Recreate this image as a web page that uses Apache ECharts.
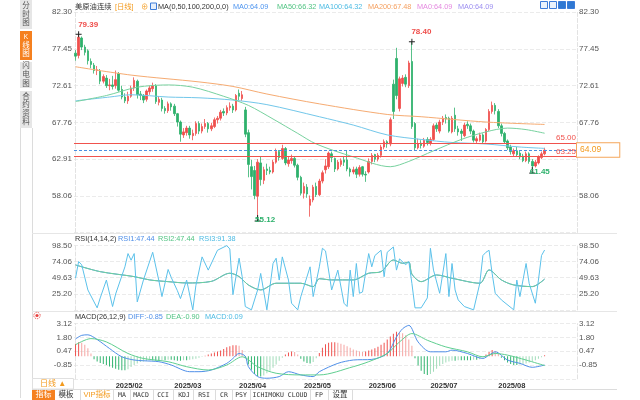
<!DOCTYPE html>
<html>
<head>
<meta charset="utf-8">
<title>美原油连续 日线</title>
<script src="https://cdn.jsdelivr.net/npm/echarts@6.0.0/dist/echarts.min.js"></script>
<style>
html,body{margin:0;padding:0;background:#fff;overflow:hidden}
#chart{width:640px;height:400px}
</style>
</head>
<body>
<div id="chart"></div>
<script>
// ================= DATA =================
const janDays = [14,15,16,17,21,22,23,24,27,28,29,30,31];
const febDays = [3,4,5,6,7,10,11,12,13,14,18,19,20,21,24,25,26,27,28];
const marDays = [3,4,5,6,7,10,11,12,13,14,17,18,19,20,21,24,25,26,27,28,31];
const aprDays = [1,2,3,4,7,8,9,10,11,14,15,16,17,21,22,23,24,25,28,29,30];
const mayDays = [1,2,5,6,7,8,9,12,13,14,15,16,19,20,21,22,23,27,28,29,30];
const junDays = [2,3,4,5,6,9,10,11,12,13,16,17,18,20,23,24,25,26,27,30];
const julDays = [1,2,3,7,8,9,10,11,14,15,16,17,18,21,22,23,24,25,28,29,30,31];
const augDays = [1,4,5,6,7,8,11,12,13,14,15,18,19,20,21,22];

// daily bars: [open, close, low, high]
const ohlc = [
[76.9,76.5,75.9,77.3],[76.6,79.0,76.2,79.39],[78.9,77.7,77.3,79.1],[77.7,77.0,76.6,78.0],[77.2,75.9,75.4,77.4],
[75.8,75.4,74.9,76.2],[75.3,74.6,74.2,75.6],[74.6,74.7,74.0,75.2],[74.5,73.2,72.8,74.8],[73.2,73.8,72.9,74.1],
[73.6,72.6,72.3,74.0],[72.6,72.7,72.0,73.5],[72.7,72.5,72.1,73.9],
[72.6,73.4,72.2,74.6],[74.2,72.0,71.8,74.4],[72.1,71.1,70.8,72.6],[71.1,70.6,70.3,71.6],[70.6,71.2,70.2,71.8],
[71.2,72.3,71.0,72.6],[72.3,73.3,71.9,73.7],[73.2,71.4,70.9,73.4],[71.5,71.3,70.7,71.9],[71.3,70.7,70.3,71.5],
[70.8,71.9,70.5,72.1],[71.8,72.3,71.4,72.6],[72.2,72.6,71.8,73.0],[72.6,70.5,70.2,72.8],[70.4,70.8,70.0,71.2],
[70.7,69.6,69.2,71.0],[69.6,69.3,68.9,69.9],[69.3,70.2,69.0,70.5],[70.2,69.8,69.3,70.4],
[69.9,68.9,68.6,70.2],[68.9,67.8,67.2,69.0],[67.8,66.2,65.2,68.0],[66.1,66.5,65.7,67.0],[66.4,67.0,66.0,67.3],
[67.0,66.1,65.6,67.3],[66.0,66.3,65.4,66.8],[66.3,67.6,66.0,67.9],[67.6,66.6,66.2,67.9],[66.6,67.2,66.3,67.6],
[67.2,67.6,66.9,68.2],[67.6,66.9,66.4,67.8],[66.9,67.3,66.6,67.7],[67.2,68.1,67.0,68.4],[68.1,68.3,67.6,68.6],
[68.3,69.1,68.0,69.4],[69.2,69.0,68.6,69.6],[69.0,69.7,68.7,70.0],[69.7,69.9,69.3,70.4],[69.9,69.4,69.0,70.2],
[69.4,71.3,69.2,71.5],
[71.6,71.2,70.7,72.1],[70.9,71.4,70.6,71.9],[69.4,66.2,65.8,69.8],[66.4,62.2,60.5,66.8],[61.9,60.6,58.9,62.8],
[61.4,58.1,57.6,62.0],[58.0,62.5,55.12,62.9],[62.4,60.2,59.4,63.2],[60.1,61.5,59.6,61.9],[61.6,61.4,60.8,62.3],
[61.4,61.2,60.9,61.9],[61.2,62.5,61.0,62.8],[62.5,63.9,62.3,64.3],[63.9,63.1,62.7,64.1],[63.0,64.3,62.8,64.8],
[64.3,62.4,62.1,64.5],[62.3,62.8,61.9,63.2],[62.7,63.0,62.3,63.5],[63.0,62.1,61.8,63.3],[62.1,60.5,60.1,62.3],
[60.5,58.4,58.1,60.7],
[58.4,59.3,57.7,59.8],[59.2,58.3,57.8,59.6],[56.8,57.6,55.3,58.1],[57.5,59.2,57.2,59.5],[59.3,58.2,57.9,59.8],
[58.2,60.0,58.0,60.3],[60.0,61.1,59.7,61.4],[61.5,62.0,61.0,62.9],[61.9,63.7,61.6,63.9],[63.6,63.1,62.5,63.9],
[63.0,61.6,61.2,63.1],[61.6,62.5,61.4,62.8],[62.2,62.7,61.9,63.0],[62.8,62.5,62.0,63.2],[62.8,61.6,61.3,64.0],
[61.6,61.2,60.6,61.8],[61.2,61.5,60.9,61.9],[61.6,60.9,60.4,61.9],[60.9,61.8,60.6,62.1],[61.9,60.9,60.6,62.0],
[60.9,60.8,59.9,61.3],
[61.2,62.6,61.0,63.0],[62.6,63.4,62.2,63.7],[63.5,62.9,62.5,63.6],[62.9,63.4,62.6,63.7],[63.4,64.5,63.1,64.8],
[64.5,65.2,64.2,65.5],[65.2,64.9,64.4,65.4],[64.9,68.1,64.6,68.4],[72.8,69.2,68.2,73.4],[76.2,71.3,70.8,77.6],
[69.6,73.5,69.2,73.8],[72.9,73.6,72.5,74.0],[73.7,72.8,72.4,74.1],[72.6,75.6,72.3,75.9],[75.8,67.2,66.9,78.40],
[67.6,64.4,64.1,67.8],[64.4,64.9,64.2,65.6],[65.0,64.7,64.3,65.4],[64.6,65.4,64.4,65.7],[65.5,65.1,64.7,65.8],
[65.0,65.5,64.7,65.8],[65.5,67.3,65.3,67.6],[67.4,66.9,66.5,67.7],[66.6,67.8,66.3,68.1],[67.8,68.3,67.4,68.6],
[68.4,68.2,67.6,68.8],[68.3,66.6,66.4,68.5],[66.5,68.3,66.3,68.6],[68.7,66.9,66.5,69.7],[66.9,66.5,66.0,67.3],
[66.6,66.3,65.3,66.9],[66.0,67.4,65.8,67.7],[67.5,67.3,66.9,67.9],[67.3,66.6,66.2,67.6],[66.6,65.4,65.1,66.8],
[65.3,65.6,65.0,65.9],[65.4,66.1,65.2,66.4],[66.1,65.2,64.9,66.3],[65.3,66.8,65.1,67.0],[66.8,69.2,66.6,69.5],
[69.2,70.0,68.9,70.5],[70.0,69.3,68.8,70.3],
[69.2,67.3,67.0,69.5],[67.3,66.3,65.9,67.6],[66.3,65.2,64.9,66.5],[65.3,64.4,64.1,65.5],[64.5,63.9,63.5,64.8],
[63.6,64.0,63.3,64.3],[64.0,63.5,63.2,64.5],[63.7,63.2,62.9,64.0],[63.3,62.7,62.5,63.6],[62.7,63.6,62.5,63.9],
[63.6,62.6,62.3,63.8],[62.6,62.0,61.45,62.9],[62.0,62.5,61.8,62.8],[62.4,63.2,62.2,63.4],[63.1,63.6,62.9,63.9],
[63.6,64.09,63.4,64.4]
];

// moving averages: [bar index, value]
const ma50 = [[0,70.5],[10,71.3],[20,72.4],[30,72.7],[38,72.4],[48,71.2],[56,70.0],[64,68.2],[72,66.3],[78,64.9],[90,63.2],[102,61.9],[108,62.6],[116,64.0],[125,65.5],[133,66.5],[140,67.0],[146,66.8],[152,66.32]];
const ma100 = [[0,70.6],[11,71.1],[18,71.4],[30,71.1],[40,71.0],[51,70.7],[62,70.1],[79,68.5],[90,67.4],[101,66.1],[112,65.5],[122,65.1],[133,64.9],[144,64.5],[152,64.32]];
const ma200 = [[0,75.1],[18,74.0],[40,73.1],[51,72.5],[62,71.5],[79,70.2],[101,68.8],[112,68.5],[133,67.8],[152,67.48]];

// RSI: [bar index, value]
const rsi14 = [[0,68.8],[8,58.7],[19,51.2],[24,46.2],[30,43.6],[36,41.6],[44,44.0],[50,56.3],[53,51.2],[56,38.6],[60,31.1],[65,41.2],[73,41.2],[77,36.1],[79,48.0],[83,46.2],[90,46.2],[95,56.3],[99,58.7],[103,76.3],[106,71.3],[108,73.0],[109,55.0],[112,43.6],[117,53.7],[122,48.7],[131,41.2],[134,61.3],[138,46.2],[142,38.6],[148,36.1],[152,47.44]];
const rsi2 = [[0,49],[1,74],[2,69],[4,31],[7,4],[8,19],[10,46],[12,6],[13,25],[16,66],[17,86],[18,76],[19,86],[20,13],[22,46],[25,88],[27,45],[28,21],[30,62],[31,50],[33,30],[34,18],[36,46],[38,1],[39,38],[41,81],[43,61],[46,91],[49,98],[50,93],[51,24],[53,79],[54,51],[55,6],[57,1],[59,31],[60,56],[62,1],[64,71],[65,79],[66,46],[67,81],[69,46],[70,11],[72,1],[73,21],[76,66],[77,21],[79,66],[80,94],[81,90],[83,31],[85,61],[87,11],[88,6],[89,61],[90,21],[91,71],[92,26],[93,28],[95,86],[96,66],[97,83],[99,91],[100,51],[101,88],[103,96],[104,61],[105,78],[107,69],[108,74],[109,41],[110,4],[112,4],[114,19],[115,94],[116,61],[118,26],[120,86],[121,21],[122,71],[123,31],[124,16],[126,6],[129,1],[131,41],[132,83],[133,88],[134,91],[135,56],[136,26],[138,16],[142,1],[143,46],[144,21],[146,71],[147,41],[149,11],[150,46],[151,83],[152,91.38]];

// MACD
const diffLine = [[0,1.65],[2,2.0],[4,2.05],[7,1.6],[11,0.74],[15,-0.06],[19,-0.37],[22,-0.44],[27,-0.53],[31,-0.85],[37,-1.49],[40,-1.49],[44,-1.33],[49,-0.69],[51,-0.22],[53,0.26],[55,0.0],[56,-1.0],[59,-1.96],[62,-2.12],[66,-1.96],[69,-1.49],[73,-1.80],[77,-1.96],[79,-1.49],[85,-0.69],[90,-0.37],[96,-0.31],[101,0.26],[104,1.84],[106,2.64],[108,2.96],[111,1.37],[115,0.42],[120,0.42],[122,0.58],[127,0.26],[132,-0.22],[134,0.10],[136,0.42],[140,-0.37],[144,-0.69],[148,-1.07],[152,-0.85]];
const deaLine = [[0,1.1],[5,1.69],[10,1.37],[17,0.26],[22,-0.22],[30,-0.53],[36,-1.01],[43,-1.33],[49,-0.85],[54,-0.06],[59,-1.01],[65,-1.64],[73,-1.80],[79,-1.80],[90,-1.01],[95,-0.53],[101,0.26],[105,1.37],[109,2.17],[114,1.53],[120,0.89],[127,0.42],[132,-0.06],[136,0.26],[140,0.10],[146,-0.37],[152,-0.90]];
const macdHist = [
1.20,1.35,1.30,1.10,0.75,0.25,-0.30,-0.50,-0.65,-0.75,
-0.85,-1.00,-1.10,-1.20,-1.30,-1.35,-1.35,-1.25,-1.05,-0.85,
-0.70,-0.55,-0.50,-0.45,-0.40,-0.40,-0.45,-0.45,-0.40,-0.40,
-0.35,-0.35,-0.40,-0.45,-0.45,-0.40,-0.40,-0.35,-0.30,-0.25,
-0.15,-0.05,0.05,0.15,0.25,0.35,0.45,0.55,0.70,0.85,
0.95,1.05,1.05,1.00,0.60,-0.20,-0.80,-1.30,-1.70,-1.90,
-1.95,-1.85,-1.65,-1.40,-1.10,-0.80,-0.45,-0.15,0.15,0.35,
0.45,0.40,0.15,-0.25,-0.50,-0.65,-0.70,-0.55,-0.20,0.30,
0.80,1.15,1.30,1.35,1.35,1.30,1.20,1.10,0.95,0.80,
0.65,0.55,0.45,0.40,0.45,0.55,0.65,0.75,0.90,1.10,
1.30,1.60,1.90,2.15,2.35,2.30,2.20,2.00,1.60,1.00,
-0.20,-0.90,-1.40,-1.70,-1.80,-1.70,-1.50,-1.20,-0.95,-0.75,
-0.60,-0.50,-0.45,-0.45,-0.40,-0.40,-0.40,-0.40,-0.40,-0.35,
-0.35,-0.30,-0.10,0.15,0.40,0.60,0.50,0.25,-0.15,-0.40,
-0.60,-0.75,-0.85,-0.85,-0.80,-0.75,-0.70,-0.60,-0.50,-0.40,
-0.25,-0.10,0.09
];

// reference levels and extremes
const levelLines = [65.00, 63.25];
const lastPrice = 64.09;
const highMarks = [[1, 79.39], [109, 78.40]];
const lowMarks = [[59, 55.12], [148, 61.45]];

// tick labels
const priceTicks = ['82.30','77.45','72.61','67.76','62.91','58.06'];
const priceTicksRight = ['82.30','77.45','72.61','67.76','58.06'];
const rsiTicks = ['98.50','74.06','49.63','25.20'];
const macdTicks = ['3.12','1.80','0.47','-0.85'];

// texts
const mainLegend = ['美原油连续','[日线]','⊕','MA(0,50,100,200,0,0)','MA0:64.09','MA50:66.32','MA100:64.32','MA200:67.48','MA0:64.09','MA0:64.09'];
const rsiLegend = ['RSI(14,14,2)','RSI1:47.44','RSI2:47.44','RSI3:91.38'];
const macdLegend = ['MACD(26,12,9)','DIFF:-0.85','DEA:-0.90','MACD:0.09'];
const sideTabs = ['分时图','K线图','闪电图','合约资料'];
const toolItems = ['模板','VIP指标','MA','MACD','CCI','KDJ','RSI','CR','PSY','ICHIMOKU CLOUD','FP','设置'];

// ================= BUILD =================
const dates = [];
[['01',janDays],['02',febDays],['03',marDays],['04',aprDays],['05',mayDays],['06',junDays],['07',julDays],['08',augDays]]
  .forEach(([m, ds]) => ds.forEach(d => dates.push('2025-' + m + '-' + String(d).padStart(2,'0'))));
const PAD = 10;
const cats = dates.slice();
for (let k = 0; k < PAD; k++) cats.push('pad' + k);
const NC = cats.length;
const monthStart = [];
dates.forEach((d, i) => { if (i > 0 && d.slice(5,7) !== dates[i-1].slice(5,7)) monthStart.push(i); });

const UP = '#ef4f4c', DN = '#2eb16c';
const SANS = '"Liberation Sans","Noto Sans CJK SC",sans-serif';
const MONO = '"DejaVu Sans Mono","Noto Sans CJK SC",monospace';

function pick(labels) {
  return v => { for (const s of labels) { if (Math.abs(parseFloat(s) - v) < 0.02) return s; } return ''; };
}

const histData = macdHist.map((v, i) => {
  const p = i > 0 ? macdHist[i-1] : v;
  let c;
  if (v >= 0) c = (v >= p) ? '#ef524f' : '#f5a4a2';
  else c = (v <= p) ? '#32b46f' : '#a2dcba';
  return { value: v, itemStyle: { color: c } };
});

const gridL = 74, gridR = 63;
const grids = [
  { left: gridL, right: gridR, top: 12.2, height: 220.3 },
  { left: gridL, right: gridR, top: 245.3, height: 64.7 },
  { left: gridL, right: gridR, top: 323.7, height: 55.1 }
];

function catAxis(g, showLabel) {
  return {
    type: 'category', gridIndex: g, data: cats, boundaryGap: true,
    axisLine: { show: false }, axisTick: { show: false }, splitLine: { show: false },
    axisLabel: showLabel ? {
      show: true, interval: (idx) => monthStart.indexOf(idx) >= 0,
      formatter: v => v.slice(0,4) + '/' + v.slice(5,7),
      align: 'left', fontSize: 7.5, fontWeight: 'bold', color: '#333', fontFamily: SANS, margin: 3
    } : { show: false }
  };
}
function valXAxis(g) {
  return { type: 'value', gridIndex: g, min: -0.5, max: NC - 0.5, show: false };
}
function yAx(g, pos, min, max, interval, labels, split) {
  return {
    type: 'value', gridIndex: g, position: pos, min: min, max: max, interval: interval,
    axisLine: { show: true, lineStyle: { color: '#e2e2e2', type: 'dashed', width: 1 } },
    axisTick: { show: false },
    axisLabel: { show: true, formatter: pick(labels), fontSize: 8, color: '#555', fontFamily: SANS, margin: 2 },
    splitLine: { show: split, lineStyle: { color: '#ebebeb', type: 'dashed', width: 1 } }
  };
}

// ---------- graphics (frame, texts) ----------
const G = [];
function T(x, y, text, fill, size, extra) {
  G.push({ type: 'text', silent: true, z: 100, style: Object.assign({
    x: x, y: y, text: text, fill: fill, font: size + 'px ' + SANS,
    textAlign: 'left', textVerticalAlign: 'middle', align: 'left', verticalAlign: 'middle'
  }, extra || {}) });
}
function R(x, y, w, h, style) { G.push({ type: 'rect', silent: true, z: 99, shape: { x: x, y: y, width: w, height: h }, style: style }); }
function L(x1, y1, x2, y2, color) { G.push({ type: 'line', silent: true, z: 99, shape: { x1: x1, y1: y1, x2: x2, y2: y2 }, style: { stroke: color, lineWidth: 1 } }); }

// side tabs
const tabY = [0, 31, 62, 91], tabH = [29, 29, 26, 37];
sideTabs.forEach((t, k) => {
  const active = k === 1;
  R(20, tabY[k], 12, tabH[k], { fill: active ? '#f5801f' : '#e6e6e6' });
  const chars = t.split('');
  const step = 8.6;
  const y0 = tabY[k] + tabH[k] / 2 - (chars.length - 1) * step / 2;
  chars.forEach((ch, j) => T(26, y0 + j * step, ch, active ? '#fff' : '#555', ch === 'K' ? 6.5 : 7.5,
    { textAlign: 'center', align: 'center' }));
});
L(20.5, 128, 20.5, 398, '#dcdcdc');
L(32.5, 128, 32.5, 398, '#dcdcdc');

// main legend
const mainX = [75, 115, 141, 158, 233, 277, 319, 368, 417, 458];
const mainC = ['#333', '#f39a1d', '#f39a1d', '#333', '#4f95ef', '#52c483', '#4dbbe3', '#f5a060', '#e58ae0', '#9d8ff0'];
mainLegend.forEach((t, k) => T(mainX[k], 6.5, t, mainC[k], 7.3));
R(150.5, 3, 6, 6.5, { fill: '#e6effb', stroke: '#3d7cd9', lineWidth: 1 });
// top-right icons
[540, 549, 558, 567].forEach((x, k) => R(x + 0.5, 1.5, 7, 7, { fill: k < 2 ? '#eaf2fc' : '#2f78d2', stroke: '#3d7cd9', lineWidth: 1 }));

// RSI / MACD legends
const rsiX = [75, 118, 158, 199], rsiC = ['#333', '#4f8fe8', '#52c483', '#4dbbe3'];
rsiLegend.forEach((t, k) => T(rsiX[k], 239, t, rsiC[k], 7.3));
const macdX = [75, 128, 166, 205], macdC = ['#333', '#4f8fe8', '#52c483', '#4dbbe3'];
macdLegend.forEach((t, k) => T(macdX[k], 316.5, t, macdC[k], 7.3));
G.push({ type: 'circle', silent: true, z: 100, shape: { cx: 37, cy: 315.5, r: 3.2 }, style: { fill: 'none', stroke: '#e8423f', lineWidth: 1, lineDash: [1, 1] } });
G.push({ type: 'circle', silent: true, z: 100, shape: { cx: 37, cy: 315.5, r: 1.6 }, style: { fill: '#e8423f' } });

// panel separators
L(32, 233.5, 617, 233.5, '#e6e6e6');
L(32, 311.5, 617, 311.5, '#e6e6e6');

// 日线 selector
R(32.5, 378.5, 41, 10.5, { fill: '#fff', stroke: '#e0e0e0', lineWidth: 1 });
T(40, 384, '日线 ▲', '#f39a1d', 8);

// toolbar
L(32, 389.5, 617, 389.5, '#dcdcdc');
R(32, 390, 23, 10, { fill: '#f5801f' });
T(43.5, 395, '指标', '#fff', 8, { textAlign: 'center', align: 'center' });
const toolCX = [66, 97, 122, 141, 163, 184, 204, 224, 241, 280, 319, 340];
const toolSep = [80, 113, 130, 153, 173, 193, 215, 232, 250, 310, 328, 352];
toolItems.forEach((t, k) => {
  const cjk = /[\u4e00-\u9fff]/.test(t);
  T(toolCX[k], 395, t, k === 1 ? '#f39a1d' : '#333', cjk ? 7.5 : 6.5,
    { textAlign: 'center', align: 'center', font: (cjk ? 7.5 : 6.5) + 'px ' + (cjk ? SANS : MONO) });
});
toolSep.forEach(x => L(x + 0.5, 390, x + 0.5, 400, '#dcdcdc'));

// ================= OPTION =================
const markPts = [];
highMarks.forEach(([i, v]) => markPts.push({
  coord: [dates[i], v], value: v,
  symbol: 'path://M0,5L10,5M5,0L5,10', symbolSize: 6,
  itemStyle: { color: 'none', borderColor: '#222', borderWidth: 1 },
  label: { show: true, formatter: v.toFixed(2), position: [5, -8], color: '#ef4f4c', fontSize: 8, fontWeight: 'bold', fontFamily: SANS }
}));
lowMarks.forEach(([i, v]) => markPts.push({
  coord: [dates[i], v], value: v,
  symbol: 'path://M0,10L10,10M5,4L5,10', symbolSize: 6,
  itemStyle: { color: 'none', borderColor: '#222', borderWidth: 1 },
  label: { show: true, formatter: v.toFixed(2), position: [3, 3], color: '#2eb16c', fontSize: 8, fontWeight: 'bold', fontFamily: SANS }
}));

const markLines = levelLines.map(v => ({
  yAxis: v,
  lineStyle: { color: '#f0524d', type: 'solid', width: 1 },
  label: { show: true, position: 'insideEndTop', formatter: v.toFixed(2), color: '#f0524d', fontSize: 8, fontFamily: SANS, distance: 1 }
}));
markLines.push({
  yAxis: lastPrice,
  lineStyle: { color: '#4a8fe2', type: [3, 2], width: 1 },
  label: { show: true, position: 'end', formatter: lastPrice.toFixed(2), color: '#f39a1d', fontSize: 8.5, fontFamily: SANS,
    backgroundColor: '#fff', borderColor: '#f5a65b', borderWidth: 1, padding: [3, 18, 2, 3], distance: 0 }
});

function lineS(name, xi, yi, data, color, smooth) {
  return { type: 'line', name: name, xAxisIndex: xi, yAxisIndex: yi, data: data, symbol: 'none', smooth: smooth,
    silent: true, lineStyle: { width: 1, color: color }, z: 3 };
}

const option = {
  animation: false,
  backgroundColor: '#fff',
  textStyle: { fontFamily: SANS },
  grid: grids,
  xAxis: [catAxis(0, false), catAxis(1, false), catAxis(2, true), valXAxis(0), valXAxis(1), valXAxis(2)],
  yAxis: [
    yAx(0, 'left', 53.211, 82.305, 4.849, priceTicks, true),
    yAx(0, 'right', 53.211, 82.305, 4.849, priceTicksRight, false),
    yAx(1, 'left', 0.76, 98.5, 24.435, rsiTicks, true),
    yAx(1, 'right', 0.76, 98.5, 24.435, rsiTicks, false),
    yAx(2, 'left', -2.173, 3.12, 1.32325, macdTicks, true),
    yAx(2, 'right', -2.173, 3.12, 1.32325, macdTicks, false)
  ],
  series: [
    {
      type: 'candlestick', name: '美原油连续', xAxisIndex: 0, yAxisIndex: 0, data: ohlc,
      barWidth: 2, silent: true, z: 2,
      itemStyle: { color: UP, color0: DN, borderColor: UP, borderColor0: DN, borderWidth: 0.8 },
      markLine: { silent: true, symbol: ['none', 'none'], animation: false, data: markLines },
      markPoint: { silent: true, animation: false, data: markPts }
    },
    lineS('MA200', 3, 0, ma200, '#f6ab72', 0.3),
    lineS('MA100', 3, 0, ma100, '#72c7ea', 0.3),
    lineS('MA50', 3, 0, ma50, '#78d29f', 0.3),
    lineS('RSI1', 4, 2, rsi14, '#4f8fe8', 0.3),
    lineS('RSI2', 4, 2, rsi14, '#6fd29c', 0.3),
    lineS('RSI3', 4, 2, rsi2, '#5bc1ea', false),
    { type: 'bar', name: 'MACD', xAxisIndex: 2, yAxisIndex: 4, data: histData, barWidth: 1, silent: true },
    lineS('DIFF', 5, 4, diffLine, '#4f8fe8', 0.3),
    lineS('DEA', 5, 4, deaLine, '#5fcf90', 0.3)
  ],
  graphic: { elements: G }
};

const chart = echarts.init(document.getElementById('chart'), null, { renderer: 'canvas', width: 640, height: 400 });
chart.setOption(option);
</script>
</body>
</html>
